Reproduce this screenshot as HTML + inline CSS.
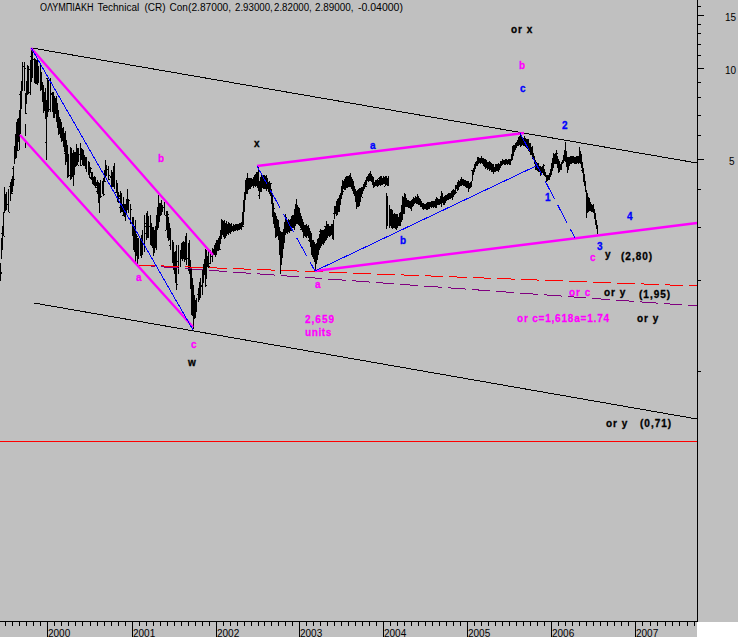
<!DOCTYPE html>
<html><head><meta charset="utf-8"><style>
html,body{margin:0;padding:0;}
body{width:738px;height:637px;background:#c0c0c0;position:relative;overflow:hidden;font-family:"Liberation Sans",sans-serif;}
svg{position:absolute;left:0;top:0;}
.t{position:absolute;white-space:nowrap;line-height:1;font-size:10px;color:#000;}
.b{position:absolute;white-space:nowrap;line-height:1;font-size:10px;font-weight:bold;-webkit-text-stroke:0.3px currentColor;}
</style></head><body>
<svg width="738" height="637" viewBox="0 0 738 637">
<rect x="697" y="622" width="41" height="15" fill="#fff"/>
<g fill="none" stroke-linecap="butt">
<path d="M0 441.5H697" stroke="#f00" stroke-width="1" shape-rendering="crispEdges"/>
<path d="M32 48L697 163" stroke="#000" stroke-width="1" shape-rendering="crispEdges"/>
<path d="M34 303L697 419" stroke="#000" stroke-width="1" shape-rendering="crispEdges"/>
<path d="M0.5 263V281M1 273.5h1M1 272.5h1M1.5 238V259M2 249.5h1M2.5 226V250M1 233.5h1M3.5 212V236M4 236.5h1M4.5 187V213M5.5 194V211M4 197.5h1M4 202.5h1M6.5 192V210M8.5 189V212M7 204.5h1M9 212.5h1M10.5 182V201M9 186.5h1M11.5 179V194M12 193.5h1M12.5 176V192M13 179.5h1M11 192.5h1M13.5 166V186M14 179.5h1M12 168.5h1M14.5 146V164M15.5 134V159M14 154.5h1M16.5 122V158M17 129.5h1M15 145.5h1M17.5 119V151M18.5 118V141M19 127.5h1M19.5 110V150M18 150.5h1M18 141.5h1M20.5 91V134M19 94.5h1M21.5 81V109M20 108.5h1M22.5 62V91M23 66.5h1M24.5 62V91M25 68.5h1M25.5 93V114M26 113.5h1M26.5 81V104M25 103.5h1M27.5 65V95M28 90.5h1M28 70.5h1M28.5 66V94M30.5 60V95M29 92.5h1M29 69.5h1M31.5 50V82M30 56.5h1M32.5 48V78M33 59.5h1M34.5 58V83M35.5 59V84M36.5 60V84M35 78.5h1M37.5 60V85M38 74.5h1M38.5 66V83M40.5 63V91M41 82.5h1M41.5 72V90M42.5 82V102M43 95.5h1M43.5 85V113M44.5 92V111M43 108.5h1M45.5 88V119M44 107.5h1M46.5 100V160M45 142.5h1M47.5 78V117M46 78.5h1M48.5 80V112M49 109.5h1M47 108.5h1M50.5 78V112M51 93.5h1M52.5 92V112M51 94.5h1M53.5 92V118M54.5 96V118M53 106.5h1M55 105.5h1M55.5 98V114M54 99.5h1M56.5 96V122M57 114.5h1M57.5 103V128M56 114.5h1M58.5 110V135M57 114.5h1M59.5 117V134M60.5 119V138M59 122.5h1M59 132.5h1M61.5 122V142M62 129.5h1M62.5 128V141M63 138.5h1M63 140.5h1M63.5 127V147M64 136.5h1M64.5 133V152M65.5 131V165M64 153.5h1M66.5 140V162M67.5 145V178M68 175.5h1M68.5 154V177M69 175.5h1M67 156.5h1M70.5 147V180M71 148.5h1M71.5 149V179M70 173.5h1M72 164.5h1M72.5 153V177M71 176.5h1M73.5 150V186M72 169.5h1M74.5 152V175M75.5 152V167M76 165.5h1M76.5 144V166M77.5 148V165M78 165.5h1M78.5 148V162M77 158.5h1M80.5 143V166M81 165.5h1M79 154.5h1M81.5 148V160M80 152.5h1M82.5 149V165M81 152.5h1M83.5 150V166M84 156.5h1M84.5 155V166M83 161.5h1M83 161.5h1M85.5 157V169M86 159.5h1M86.5 157V172M88.5 161V175M89.5 162V178M90 167.5h1M90.5 167V173M91 168.5h1M91.5 172V180M90 178.5h1M90 177.5h1M92.5 172V184M93 180.5h1M93.5 177V185M94.5 176V186M95 177.5h1M95.5 178V188M94 180.5h1M96.5 182V186M97 182.5h1M97.5 180V194M96 191.5h1M96 187.5h1M98.5 182V203M99.5 183V213M100 197.5h1M98 189.5h1M100.5 180V198M101 196.5h1M102.5 181V194M103 189.5h1M103.5 178V196M104 194.5h1M104.5 170V182M105 181.5h1M105.5 160V178M106.5 165V176M105 169.5h1M107 169.5h1M108.5 166V180M109 179.5h1M109 175.5h1M110.5 176V178M111.5 170V187M112.5 172V187M111 178.5h1M113.5 166V187M114 185.5h1M114.5 163V189M116.5 180V193M117 188.5h1M115 192.5h1M117.5 183V202M116 186.5h1M118.5 192V203M119 198.5h1M119 195.5h1M120.5 191V213M119 207.5h1M119 196.5h1M121.5 193V211M122.5 204V212M121 211.5h1M123.5 197V216M122 215.5h1M124.5 204V217M125 217.5h1M125.5 204V221M124 215.5h1M126 205.5h1M126.5 199V213M127 203.5h1M127.5 189V210M128 205.5h1M128.5 199V213M129 200.5h1M130.5 204V224M131 209.5h1M132.5 217V236M133 222.5h1M133.5 217V250M132 219.5h1M134.5 226V252M133 240.5h1M135 244.5h1M135.5 220V262M134 240.5h1M136.5 234V256M137 236.5h1M137.5 238V264M138.5 238V259M137 255.5h1M140.5 238V256M141.5 235V258M140 243.5h1M142.5 230V255M141 247.5h1M144.5 215V252M145 223.5h1M145 226.5h1M146.5 213V240M145 233.5h1M147 232.5h1M147.5 211V238M148.5 216V238M147 223.5h1M150.5 215V245M149 226.5h1M151.5 223V246M152 236.5h1M152.5 227V248M153 243.5h1M153 227.5h1M153.5 228V256M154.5 230V253M155 242.5h1M155.5 226V248M154 240.5h1M156.5 215V250M157.5 207V230M158.5 195V228M159 206.5h1M159.5 203V222M160.5 203V216M161.5 200V215M162.5 205V212M164.5 202V215M163 207.5h1M166.5 211V230M165 215.5h1M165 230.5h1M167.5 211V238M168 214.5h1M168.5 217V241M169 231.5h1M167 220.5h1M169.5 223V240M168 226.5h1M170.5 228V250M169 245.5h1M172.5 240V263M173.5 242V270M174 257.5h1M172 248.5h1M174.5 252V274M175 263.5h1M175 274.5h1M175.5 251V283M176 276.5h1M176.5 245V290M175 252.5h1M177 284.5h1M178.5 245V274M177 261.5h1M180.5 250V267M181.5 243V259M180 251.5h1M182.5 242V261M183.5 241V259M182 256.5h1M184.5 242V262M183 258.5h1M183 244.5h1M185.5 236V260M184 246.5h1M186.5 233V265M188.5 243V271M187 258.5h1M189.5 240V274M190 274.5h1M188 261.5h1M190.5 260V289M189 270.5h1M191.5 269V315M192 278.5h1M192 312.5h1M192.5 278V316M191 283.5h1M193.5 285V329M194.5 295V319M195.5 300V318M194 304.5h1M194 307.5h1M196.5 298V312M198.5 288V302M197 294.5h1M199 298.5h1M199.5 282V300M200.5 278V298M201 285.5h1M201 286.5h1M202.5 270V295M203.5 264V283M202 273.5h1M204.5 259V275M205.5 249V287M206 285.5h1M206.5 250V279M207 266.5h1M205 277.5h1M207.5 256V267M208 266.5h1M208.5 249V268M209 266.5h1M210.5 250V264M209 263.5h1M212.5 248V262M211 256.5h1M213.5 249V255M214.5 245V255M215 251.5h1M215.5 243V257M214 245.5h1M216.5 240V255M217.5 240V251M216 246.5h1M218.5 238V251M219.5 236V250M220 249.5h1M220.5 230V244M221.5 219V239M222.5 220V235M223 235.5h1M223.5 221V237M224 230.5h1M224.5 220V239M225.5 223V238M226.5 221V236M227.5 224V234M228.5 222V235M229.5 223V233M228 224.5h1M230.5 224V234M231 231.5h1M231.5 223V232M230 225.5h1M232.5 226V231M233.5 224V232M234.5 225V231M235 229.5h1M235.5 224V231M236.5 224V230M237.5 224V231M236 226.5h1M238.5 224V230M239 226.5h1M239.5 223V230M240.5 223V229M241.5 222V230M242.5 212V227M243 226.5h1M243.5 200V225M242 221.5h1M244.5 192V212M245.5 180V200M246.5 178V194M245 192.5h1M247.5 173V194M246 188.5h1M248.5 178V190M249.5 178V189M250.5 178V189M249 179.5h1M251.5 178V187M250 180.5h1M252.5 179V186M253 184.5h1M253.5 177V188M254.5 175V186M255.5 174V186M256.5 172V186M255 186.5h1M257.5 172V188M256 182.5h1M258.5 166V191M257 186.5h1M259.5 181V199M258 195.5h1M260.5 177V192M261 191.5h1M261.5 173V191M262 181.5h1M262.5 177V188M263 179.5h1M263.5 175V189M264.5 175V189M265.5 176V189M266.5 175V191M267.5 178V189M266 185.5h1M268.5 182V192M269.5 181V194M270 184.5h1M270.5 183V196M271 183.5h1M271.5 189V204M272.5 193V217M271 197.5h1M273.5 203V224M274 208.5h1M274.5 212V228M275.5 213V238M276.5 216V237M275 222.5h1M277.5 219V236M278.5 220V240M277 232.5h1M279.5 227V255M280 231.5h1M280.5 232V274M281.5 232V265M280 244.5h1M282.5 232V258M283.5 229V249M284.5 222V243M283 237.5h1M285.5 214V235M284 233.5h1M286.5 217V233M285 218.5h1M287.5 220V234M288.5 219V232M289.5 220V233M290 226.5h1M290.5 219V231M291.5 216V231M290 226.5h1M292.5 215V228M293.5 215V228M294 220.5h1M294.5 209V230M293 225.5h1M295.5 205V226M296.5 199V224M295 204.5h1M297.5 205V224M298 224.5h1M298.5 207V224M299 208.5h1M299.5 209V226M298 214.5h1M300.5 213V228M301 226.5h1M301.5 216V230M300 229.5h1M302.5 219V232M303.5 222V238M302 227.5h1M304.5 226V236M305 234.5h1M305.5 225V237M304 225.5h1M306.5 224V238M307 230.5h1M307.5 226V236M308 233.5h1M308.5 225V238M307 228.5h1M309.5 228V242M308 240.5h1M310.5 231V247M309 232.5h1M311.5 233V255M312.5 240V257M313.5 240V259M314.5 242V262M315.5 244V271M316.5 243V264M317.5 239V260M316 248.5h1M318.5 238V255M317 246.5h1M319.5 234V250M320 236.5h1M320.5 229V248M319 231.5h1M321.5 230V246M322.5 230V244M323.5 230V245M322 236.5h1M324.5 229V243M325 236.5h1M325.5 226V241M324 226.5h1M326.5 221V240M327.5 224V238M328.5 224V236M329.5 226V237M330.5 226V236M331.5 224V235M332.5 224V238M333 235.5h1M333.5 220V240M332 238.5h1M334.5 206V219M333 213.5h1M335.5 206V214M334 208.5h1M336.5 201V216M337.5 199V215M338.5 198V212M339 207.5h1M339.5 195V212M340.5 193V205M341.5 186V199M342.5 180V195M343 191.5h1M343.5 181V189M344.5 179V190M343 185.5h1M345.5 177V190M346 187.5h1M346.5 176V188M347 178.5h1M347.5 176V188M348 177.5h1M348.5 176V187M349.5 175V187M350.5 173V187M351.5 177V189M352.5 179V190M353.5 181V194M352 190.5h1M354.5 186V196M355.5 189V202M356 198.5h1M356.5 191V209M357.5 190V207M356 201.5h1M358.5 189V207M359.5 188V206M360.5 188V202M361.5 188V197M362 197.5h1M362.5 187V194M361 187.5h1M363.5 184V191M364.5 182V189M365 182.5h1M365.5 180V187M366 186.5h1M366.5 177V185M367 180.5h1M367.5 176V181M368 180.5h1M368.5 174V182M369 175.5h1M369.5 173V181M368 175.5h1M370.5 171V181M371.5 174V182M370 176.5h1M372.5 176V185M373 177.5h1M373.5 178V188M372 179.5h1M374.5 182V187M373 187.5h1M375.5 180V186M376 181.5h1M376.5 180V186M377 186.5h1M377.5 179V187M378.5 180V186M379.5 177V185M378 178.5h1M380.5 176V185M379 183.5h1M381.5 176V185M380 185.5h1M382.5 178V185M383.5 176V184M384.5 177V184M385.5 176V186M384 186.5h1M386.5 176V185M387.5 178V186M386 181.5h1M388.5 176V186M389.5 205V228M390.5 209V226M391 214.5h1M391.5 209V228M390 223.5h1M392.5 210V229M393.5 214V228M392 216.5h1M394.5 213V228M393 221.5h1M395.5 214V228M396.5 214V230M395 228.5h1M397.5 214V228M398.5 217V226M399 221.5h1M399.5 213V226M400.5 212V226M401.5 205V222M400 222.5h1M402.5 196V220M403.5 197V214M404 208.5h1M404.5 193V214M405.5 194V207M406.5 198V207M407 206.5h1M407.5 200V207M406 203.5h1M408.5 200V208M409.5 201V208M408 206.5h1M410.5 201V209M411.5 200V211M412 205.5h1M412.5 199V207M413.5 197V206M414.5 198V204M413 204.5h1M415.5 196V203M416.5 197V204M417.5 194V204M418.5 196V205M419.5 198V205M420.5 199V207M421 203.5h1M421.5 201V207M422.5 203V209M423.5 203V210M424 205.5h1M424.5 204V209M425.5 204V209M424 206.5h1M426.5 203V210M427.5 202V210M428.5 202V209M429 208.5h1M429.5 202V209M430.5 202V207M431.5 201V208M432.5 201V207M431 201.5h1M433.5 201V208M432 205.5h1M434.5 201V207M435 202.5h1M435.5 199V208M436 207.5h1M436.5 197V208M437 199.5h1M437.5 198V205M436 200.5h1M438.5 199V205M437 204.5h1M439.5 199V205M440 202.5h1M440.5 196V204M439 201.5h1M441.5 191V207M442.5 193V203M443.5 197V205M444 203.5h1M444.5 196V205M443 197.5h1M445.5 195V203M446.5 195V201M447.5 194V200M446 200.5h1M448.5 193V200M449 195.5h1M449.5 193V199M450.5 193V199M449 195.5h1M451.5 191V198M452 198.5h1M452.5 190V200M451 196.5h1M453.5 189V197M454 194.5h1M454.5 190V195M455.5 185V194M456 192.5h1M456.5 185V189M455 187.5h1M457.5 182V191M458.5 180V190M457 184.5h1M459.5 181V187M460 182.5h1M460.5 179V186M461 185.5h1M461.5 177V186M462.5 179V185M463 185.5h1M463.5 179V186M464 183.5h1M464.5 180V186M463 183.5h1M465.5 180V187M466.5 181V188M467.5 181V188M466 184.5h1M468.5 181V192M469 186.5h1M469.5 183V189M468 189.5h1M470.5 182V188M471 186.5h1M471.5 181V186M472.5 170V181M471 170.5h1M473.5 168V175M474.5 164V172M473 168.5h1M475.5 162V169M476.5 161V166M475 163.5h1M477.5 157V166M478 158.5h1M478.5 157V164M479.5 158V163M480.5 158V164M481 160.5h1M481.5 156V163M480 159.5h1M482.5 158V164M481 161.5h1M483.5 158V166M484.5 159V167M483 160.5h1M485.5 159V169M484 164.5h1M486.5 160V168M487 163.5h1M487.5 162V170M488.5 162V169M489 164.5h1M489.5 161V171M490.5 162V170M491.5 163V172M490 165.5h1M492.5 164V172M493.5 164V174M494 167.5h1M494.5 167V172M495.5 164V172M496.5 164V171M495 169.5h1M497.5 164V171M498.5 163V172M499.5 164V170M500.5 161V168M501.5 161V166M502.5 159V165M503.5 160V164M502 163.5h1M504.5 160V165M505 161.5h1M505.5 159V165M506.5 159V164M505 160.5h1M507.5 160V165M508.5 159V164M509.5 159V165M510.5 159V165M509 159.5h1M511.5 154V161M512.5 146V160M511 156.5h1M513.5 145V156M514.5 145V152M513 147.5h1M515.5 143V150M516 147.5h1M516.5 142V148M517.5 140V146M516 146.5h1M518.5 137V146M519.5 136V145M520.5 134V147M521.5 135V146M522.5 137V145M523 142.5h1M523.5 138V146M522 142.5h1M524.5 136V146M525.5 138V147M526.5 139V148M527.5 139V149M528 149.5h1M528.5 139V151M529.5 143V152M530 145.5h1M530.5 143V155M531.5 147V155M532.5 146V159M533.5 153V160M534.5 156V164M535.5 160V170M534 162.5h1M536.5 162V170M535 164.5h1M537.5 163V171M538 165.5h1M538.5 163V172M539.5 166V172M540.5 166V176M541.5 167V175M542.5 166V173M543.5 164V175M544 165.5h1M544.5 169V176M543 172.5h1M545.5 172V177M546.5 175V182M547.5 175V181M548.5 175V179M549.5 173V180M548 179.5h1M550.5 169V177M551.5 163V175M550 173.5h1M552.5 158V171M553 166.5h1M553.5 153V168M554.5 154V164M555.5 153V164M554 159.5h1M556.5 150V164M557 153.5h1M557.5 156V168M558 162.5h1M558.5 159V173M559.5 161V172M560 164.5h1M560.5 164V170M561.5 162V170M562.5 160V164M563 162.5h1M563.5 155V162M564.5 150V161M565.5 142V162M566 152.5h1M566.5 151V167M567.5 157V173M568.5 157V170M569.5 157V166M570.5 156V164M571.5 156V164M572 162.5h1M572.5 156V163M571 159.5h1M573.5 156V163M574.5 157V164M575.5 157V164M576.5 156V164M577 160.5h1M577.5 156V163M578.5 156V164M577 160.5h1M579.5 147V163M580.5 151V164M581 155.5h1M581.5 154V168M582.5 162V173M581 170.5h1M583.5 168V182M584 174.5h1M584.5 175V186M585.5 181V192M586.5 190V218M587 194.5h1M587.5 193V213M588.5 197V212M589.5 198V211M590.5 202V211M589 207.5h1M591.5 204V211M592 205.5h1M592.5 205V212M591 211.5h1M593.5 204V213M594.5 209V219M595 216.5h1M595.5 213V225M596.5 220V229M595 221.5h1M597.5 225V234M386.5 193V229M387.5 196V226M25.5 124V136M25.5 141V148" stroke="#000" stroke-width="1" shape-rendering="crispEdges"/>
<path d="M137 265L697 306" stroke="#800080" stroke-width="1" stroke-dasharray="18 6" shape-rendering="crispEdges"/>
<path d="M137 265L697 286" stroke="#f00" stroke-width="1" stroke-dasharray="18 6" shape-rendering="crispEdges"/>
<path d="M31 48L213 255M20 135L193 327M257 166L524 133M315 271L697 223" stroke="#f0f" stroke-width="2.4"/>
<path d="M31.5 48.5L193 330M315 271L536 166" stroke="#00f" stroke-width="1" shape-rendering="crispEdges"/>
<path d="M257 166L315 271" stroke="#00f" stroke-width="1" shape-rendering="crispEdges" stroke-dasharray="20.6 6.9"/>
<path d="M520 133L575 238" stroke="#00f" stroke-width="1" shape-rendering="crispEdges" stroke-dasharray="20.3 6.8"/>
<path d="M697.5 0V622M0 621.5H698" stroke="#000" stroke-width="1" shape-rendering="crispEdges"/>
<path d="M697 6.5h4M697 15.5h7M697 24.5h4M697 33.5h4M697 44.5h4M697 55.5h4M697 68.5h7M697 82.5h4M697 97.5h4M697 115.5h4M697 135.5h4M697 159.5h7M697 189.5h4M697 227.5h4M697 280.5h4M697 371.5h4M47.5 622V637M132.5 622V637M216.5 622V637M299.5 622V637M383.5 622V637M467.5 622V637M551.5 622V637M635.5 622V637M40.5 622v4M33.5 622v4M26.5 622v4M19.5 622v4M12.5 622v4M5.5 622v4M54.5 622v4M61.5 622v4M68.5 622v4M75.5 622v4M82.5 622v4M90.5 622v4M97.5 622v4M104.5 622v4M111.5 622v4M118.5 622v4M125.5 622v4M139.5 622v4M146.5 622v4M153.5 622v4M160.5 622v4M167.5 622v4M174.5 622v4M181.5 622v4M188.5 622v4M195.5 622v4M202.5 622v4M209.5 622v4M223.5 622v4M230.5 622v4M237.5 622v4M244.5 622v4M251.5 622v4M258.5 622v4M264.5 622v4M271.5 622v4M278.5 622v4M285.5 622v4M292.5 622v4M306.5 622v4M313.5 622v4M320.5 622v4M327.5 622v4M334.5 622v4M341.5 622v4M348.5 622v4M355.5 622v4M362.5 622v4M369.5 622v4M376.5 622v4M390.5 622v4M397.5 622v4M404.5 622v4M411.5 622v4M418.5 622v4M425.5 622v4M432.5 622v4M439.5 622v4M446.5 622v4M453.5 622v4M460.5 622v4M474.5 622v4M481.5 622v4M488.5 622v4M495.5 622v4M502.5 622v4M509.5 622v4M516.5 622v4M523.5 622v4M530.5 622v4M537.5 622v4M544.5 622v4M558.5 622v4M565.5 622v4M572.5 622v4M579.5 622v4M586.5 622v4M593.5 622v4M600.5 622v4M607.5 622v4M614.5 622v4M621.5 622v4M628.5 622v4M642.5 622v4M650.5 622v4M657.5 622v4M665.5 622v4M672.5 622v4M679.5 622v4M687.5 622v4M694.5 622v4" stroke="#000" stroke-width="1" shape-rendering="crispEdges"/>
</g>
</svg>
<div class="t" style="left:39.5px;top:3px;transform:scaleX(0.905);transform-origin:0 0;">ΟΛΥΜΠΙΑΚΗ</div>
<div class="t" style="left:97.5px;top:3px;transform:scaleX(1);transform-origin:0 0;">Technical</div>
<div class="t" style="left:144.5px;top:3px;transform:scaleX(1);transform-origin:0 0;">(CR)</div>
<div class="t" style="left:169.5px;top:3px;transform:scaleX(1);transform-origin:0 0;">Con</div>
<div class="t" style="left:188px;top:3px;transform:scaleX(1.02);transform-origin:0 0;">(2.87000,</div>
<div class="t" style="left:234.5px;top:3px;transform:scaleX(0.97);transform-origin:0 0;">2.93000,</div>
<div class="t" style="left:274px;top:3px;transform:scaleX(0.97);transform-origin:0 0;">2.82000,</div>
<div class="t" style="left:314.5px;top:3px;transform:scaleX(0.99);transform-origin:0 0;">2.89000,</div>
<div class="t" style="left:358px;top:3px;transform:scaleX(1.05);transform-origin:0 0;">-0.04000)</div>
<div class="t" style="left:725px;top:13px;">15</div>
<div class="t" style="left:725px;top:66px;">10</div>
<div class="t" style="left:729px;top:157px;">5</div>
<div class="t" style="left:48px;top:629px;">2000</div>
<div class="t" style="left:133px;top:629px;">2001</div>
<div class="t" style="left:217px;top:629px;">2002</div>
<div class="t" style="left:300px;top:629px;">2003</div>
<div class="t" style="left:384px;top:629px;">2004</div>
<div class="t" style="left:468px;top:629px;">2005</div>
<div class="t" style="left:552px;top:629px;">2006</div>
<div class="t" style="left:636px;top:629px;">2007</div>
<div class="b" style="left:511px;top:25px;color:#000;letter-spacing:1px;">or x</div>
<div class="b" style="left:519px;top:61px;color:#f0f;letter-spacing:1px;">b</div>
<div class="b" style="left:520px;top:84px;color:#00f;letter-spacing:1px;">c</div>
<div class="b" style="left:158px;top:154px;color:#f0f;letter-spacing:1px;">b</div>
<div class="b" style="left:254px;top:139px;color:#000;letter-spacing:1px;">x</div>
<div class="b" style="left:370px;top:141px;color:#00f;letter-spacing:1px;">a</div>
<div class="b" style="left:562px;top:121px;color:#00f;letter-spacing:1px;">2</div>
<div class="b" style="left:545px;top:193px;color:#00f;letter-spacing:1px;">1</div>
<div class="b" style="left:400px;top:236px;color:#00f;letter-spacing:1px;">b</div>
<div class="b" style="left:627px;top:212px;color:#00f;letter-spacing:1px;">4</div>
<div class="b" style="left:597px;top:242px;color:#00f;letter-spacing:1px;">3</div>
<div class="b" style="left:590px;top:253px;color:#f0f;letter-spacing:1px;">c</div>
<div class="b" style="left:605px;top:250px;color:#000;letter-spacing:1px;">y</div>
<div class="b" style="left:621px;top:252px;color:#000;letter-spacing:1px;">(2,80)</div>
<div class="b" style="left:136px;top:273px;color:#f0f;letter-spacing:1px;">a</div>
<div class="b" style="left:315px;top:280px;color:#f0f;letter-spacing:1px;">a</div>
<div class="b" style="left:569px;top:288px;color:#f0f;letter-spacing:1px;">or c</div>
<div class="b" style="left:604px;top:288px;color:#000;letter-spacing:1px;">or y</div>
<div class="b" style="left:639px;top:290px;color:#000;letter-spacing:1px;">(1,95)</div>
<div class="b" style="left:305px;top:315px;color:#f0f;letter-spacing:1px;">2,659</div>
<div class="b" style="left:305px;top:328px;color:#f0f;letter-spacing:0.6px;">units</div>
<div class="b" style="left:517px;top:314px;color:#f0f;letter-spacing:0.8px;">or c=1,618a=1.74</div>
<div class="b" style="left:637px;top:314px;color:#000;letter-spacing:1px;">or y</div>
<div class="b" style="left:191px;top:340px;color:#f0f;letter-spacing:1px;">c</div>
<div class="b" style="left:188px;top:358px;color:#000;letter-spacing:1px;">w</div>
<div class="b" style="left:606px;top:419px;color:#000;letter-spacing:1px;">or y</div>
<div class="b" style="left:640px;top:419px;color:#000;letter-spacing:1px;">(0,71)</div>
</body></html>
